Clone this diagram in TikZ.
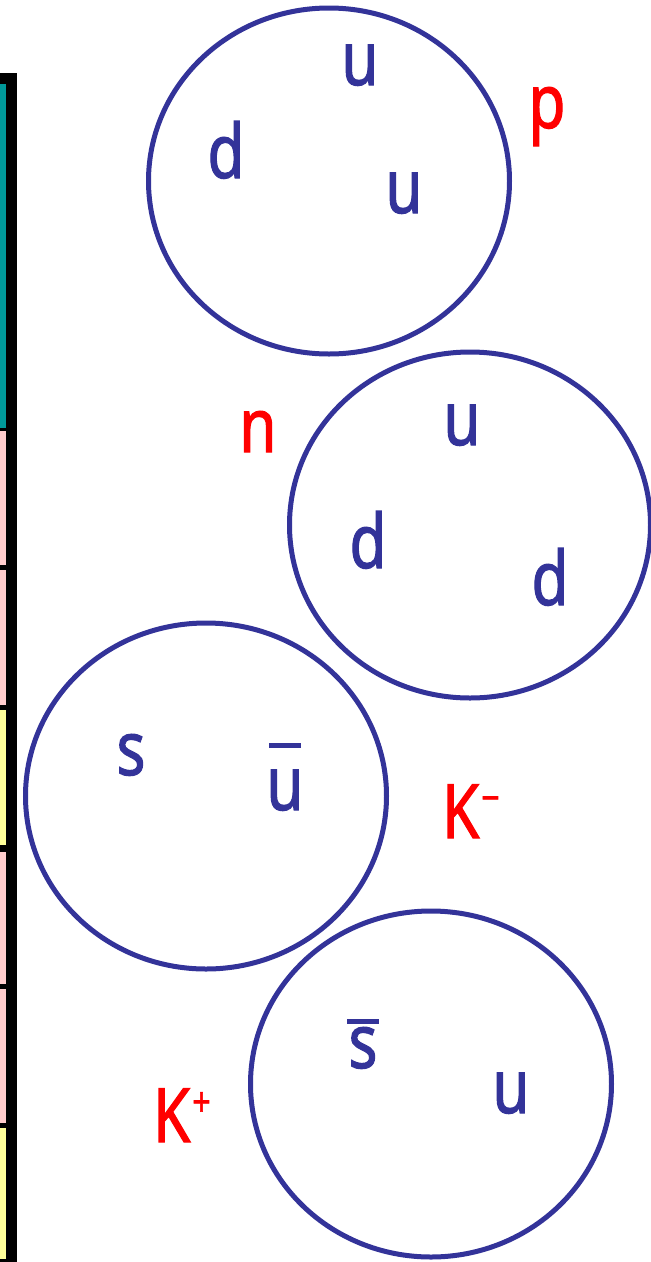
\documentclass[tikz,border=0pt]{standalone}
\usepackage{fontspec}
\setmainfont[FakeStretch=0.8,FakeBold=1.5]{Noto Sans}
\usetikzlibrary{shapes.geometric}
\definecolor{qblue}{HTML}{333399}
\definecolor{qred}{HTML}{FF0000}
\definecolor{cteal}{HTML}{009999}
\definecolor{cpink}{HTML}{FFCCCC}
\definecolor{cyel}{HTML}{FFFF99}
\newcommand\barred[2]{\setbox0\hbox{#2}\rlap{\hbox to \wd0{\hss\raisebox{#1}{\rule{32pt}{5pt}}\hss}}#2}
\newcommand\supsign[1]{\kern2pt\raisebox{26pt}{\fontsize{40}{40}\selectfont #1}}
\tikzset{
  ring/.style={draw=qblue, line width=5pt, ellipse, inner sep=0pt, minimum width=361pt, minimum height=346pt},
  quark/.style={text=qblue, inner sep=0pt, anchor=base, font=\fontsize{75}{75}\selectfont},
  hadron/.style={text=qred, inner sep=0pt, anchor=base, font=\fontsize{75}{75}\selectfont},
}
\begin{document}
\begin{tikzpicture}[x=1pt,y=-1pt]
\useasboundingbox (0,0) rectangle (651,1262);
% left strip
\fill[black] (0,73) rectangle (17,1262);
\fill[cteal] (0,84) rectangle (6,428);
\fill[cpink] (0,431) rectangle (6,565);
\fill[cpink] (0,570) rectangle (6,705);
\fill[cyel] (0,710) rectangle (6,845);
\fill[cpink] (0,852) rectangle (6,984);
\fill[cpink] (0,989) rectangle (6,1123);
\fill[cyel] (0,1128) rectangle (6,1259);
% proton
\node[ring] (proton) at (329,181) {};
\node[quark] (pu1) at (360,85) {u};
\node[quark] (pd) at (226,178) {d};
\node[quark] (pu2) at (404,213) {u};
\node[hadron] (plabel) at (547,128) {p};
% neutron
\node[ring] (neutron) at (470,525) {};
\node[quark] (nu) at (462,445) {u};
\node[quark] (nd1) at (368,568) {d};
\node[quark] (nd2) at (550,605) {d};
\node[hadron] (nlabel) at (258,452) {n};
% K minus
\node[ring] (kminus) at (206,796) {};
\node[quark] (kms) at (131,775) {s};
\node[quark] (kmu) at (285,810) {\barred{62pt}{u}};
\node[hadron, anchor=base west] (kmlabel) at (442,838) {K\supsign{−}};
% K plus
\node[ring] (kplus) at (431,1084) {};
\node[quark] (kps) at (363,1068) {\barred{44pt}{s}};
\node[quark] (kpu) at (511,1113) {u};
\node[hadron, anchor=base west] (kplabel) at (153,1142) {K\supsign{+}};
\end{tikzpicture}
\end{document}
